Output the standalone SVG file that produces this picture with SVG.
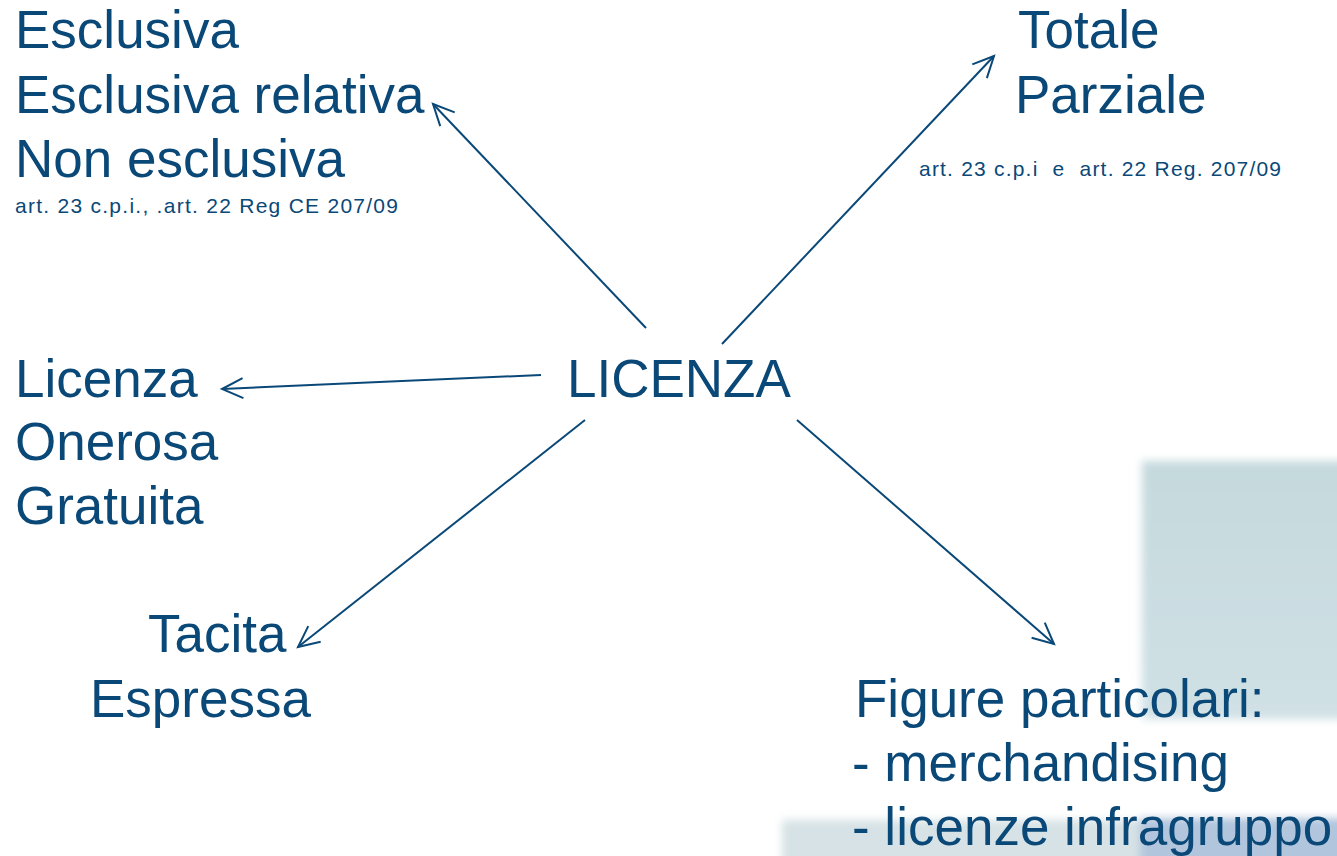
<svg xmlns="http://www.w3.org/2000/svg" width="1337" height="856" viewBox="0 0 1337 856">
<style>
text{font-family:"Liberation Sans",Arial,sans-serif;fill:#0a4877}
.big{font-size:53px}
.small{font-size:21px}
.conn line{stroke:#0a4877;stroke-width:2;fill:none}
</style>
<defs>
<filter id="blur" x="-10%" y="-10%" width="120%" height="120%"><feGaussianBlur stdDeviation="4"/></filter>
<linearGradient id="g1" x1="0" y1="0" x2="0" y2="1"><stop offset="0" stop-color="#c5d9dd"/><stop offset="1" stop-color="#d0e1e5"/></linearGradient>
<marker id="arr" viewBox="0 0 12 12" refX="11" refY="6" markerWidth="12" markerHeight="12" markerUnits="userSpaceOnUse" orient="auto" overflow="visible">
<path d="M-10,-4 L11,6 L-10,16" fill="none" stroke="#0a4877" stroke-width="2"/>
</marker>
</defs>
<rect width="1337" height="856" fill="#ffffff"/>
<g id="background" filter="url(#blur)">
<rect x="1142" y="461" width="210" height="258" fill="url(#g1)"/>
<rect x="782" y="820" width="370" height="50" fill="#d6e2e5"/>
<rect x="1140" y="818" width="210" height="50" fill="#b1c5dd"/>
</g>
<g id="connectors" class="conn">
<line x1="646" y1="328" x2="433" y2="104" marker-end="url(#arr)"/>
<line x1="722" y1="344" x2="994" y2="56" marker-end="url(#arr)"/>
<line x1="541" y1="375" x2="222" y2="389" marker-end="url(#arr)"/>
<line x1="585" y1="420" x2="298" y2="647" marker-end="url(#arr)"/>
<line x1="797" y1="420" x2="1054" y2="644" marker-end="url(#arr)"/>
</g>
<g id="center"><text class="big" x="567" y="397">LICENZA</text></g>
<g id="esclusiva">
<text class="big" x="15" y="48">Esclusiva</text>
<text class="big" x="15" y="113">Esclusiva relativa</text>
<text class="big" x="15" y="177">Non esclusiva</text>
<text class="small" x="15" y="213" textLength="383" lengthAdjust="spacing">art. 23 c.p.i., .art. 22 Reg CE 207/09</text>
</g>
<g id="totale">
<text class="big" x="1018" y="48">Totale</text>
<text class="big" x="1015" y="113">Parziale</text>
<text class="small" x="919" y="176" textLength="362" lengthAdjust="spacing" xml:space="preserve">art. 23 c.p.i  e  art. 22 Reg. 207/09</text>
</g>
<g id="licenza">
<text class="big" x="15" y="397">Licenza</text>
<text class="big" x="15" y="460">Onerosa</text>
<text class="big" x="15" y="524">Gratuita</text>
</g>
<g id="tacita">
<text class="big" x="148" y="652">Tacita</text>
<text class="big" x="90" y="717">Espressa</text>
</g>
<g id="figure">
<text class="big" x="855" y="717">Figure particolari:</text>
<text class="big" x="852" y="781">- merchandising</text>
<text class="big" x="852" y="845">- licenze infragruppo</text>
</g>
</svg>
